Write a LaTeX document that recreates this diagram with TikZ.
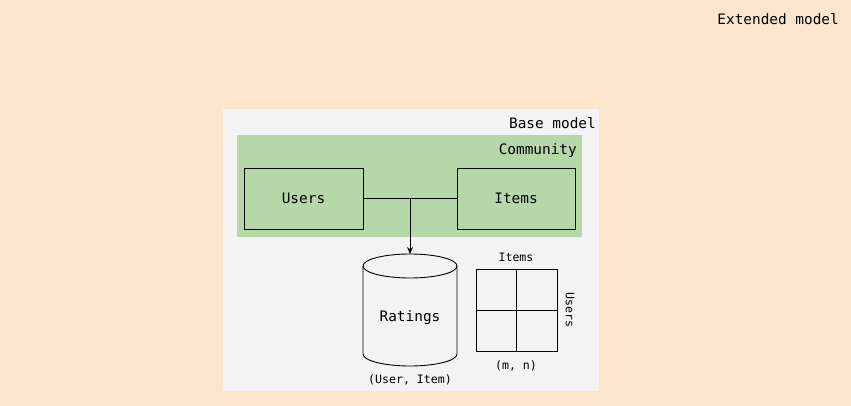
\documentclass[tikz,border=0pt]{standalone}
\usepackage{fontspec}
\setmonofont{DejaVu Sans Mono}
\usetikzlibrary{arrows.meta}
\definecolor{extbg}{HTML}{FCE5CD}
\definecolor{basebg}{HTML}{F3F3F3}
\definecolor{commbg}{HTML}{B6D7A8}
\tikzset{
  lbl/.style={font=\ttfamily\fontsize{14.4}{16}\selectfont, inner sep=0pt},
  small/.style={font=\ttfamily\fontsize{11.6}{13}\selectfont, inner sep=0pt},
  entity/.style={draw=black, line width=0.9pt, minimum width=119pt, minimum height=61pt, inner sep=0pt, font=\ttfamily\fontsize{14.4}{16}\selectfont},
  conn/.style={draw=black, line width=0.9pt},
}
\begin{document}
\begin{tikzpicture}[x=1pt,y=-1pt]
\useasboundingbox (0,0) rectangle (851,406);
\fill[extbg] (0,0) rectangle (851,406);
\node[lbl, anchor=east] (ext) at (839,19.5) {Extended model};
% base model
\fill[basebg] (223,109) rectangle (599,391);
\node[lbl, anchor=east] (base) at (596,123.5) {Base model};
% community
\fill[commbg] (237,135) rectangle (582,237);
\node[lbl, anchor=east] (comm) at (577,150.5) {Community};
% entities
\node[entity] (users) at (303.5,198.5) {\raisebox{-1pt}{Users}};
\node[entity, minimum width=118pt] (items) at (516,198.5) {\raisebox{-1pt}{Items}};
\coordinate (junction) at (410,198.5);
% cylinder
\coordinate (cyltop) at (410,254);
\draw[line width=0.9pt] (410,266) ellipse [x radius=47, y radius=12];
\draw[line width=0.9pt] (363,266) -- (363,354) arc[start angle=180, end angle=0, x radius=47, y radius=12] -- (457,266);
\node[lbl] (ratings) at (410,317.5) {Ratings};
\node[small] (useritem) at (410,380) {(User, Item)};
% connectors
\draw[conn] (users.east) -- (items.west);
\draw[conn, -{Stealth[length=7pt, width=6pt]}] (junction) -- (cyltop);
% matrix
\node[draw=black, line width=0.9pt, minimum width=81pt, minimum height=82pt, inner sep=0pt] (mat) at (516.5,310) {};
\draw[line width=0.9pt] (mat.north) -- (mat.south) (mat.west) -- (mat.east);
\node[small] (mitems) at (516,257) {Items};
\node[small, rotate=-90] (musers) at (570,310) {Users};
\node[small] (mn) at (516,366) {(m, n)};
\end{tikzpicture}
\end{document}
